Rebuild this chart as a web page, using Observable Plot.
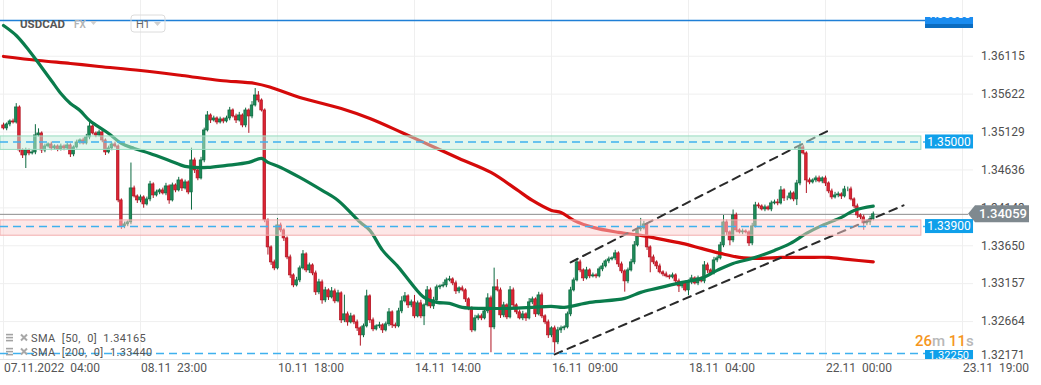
<!DOCTYPE html>
<html><head><meta charset="utf-8">
<script src="https://cdn.jsdelivr.net/npm/d3@7"></script>
<script src="https://cdn.jsdelivr.net/npm/@observablehq/plot@0.6"></script>
<style>
html,body{margin:0;padding:0;background:#fff;}
#chart{width:1041px;height:385px;overflow:hidden;}
svg text{font-family:Roboto, sans-serif;}
</style></head><body><div id="chart"></div>
<script>
// ---------- DATA ----------
const symbol = "USDCAD", market = "FX", timeframe = "H1";
const firstOpen = 1.35215;
const closes = [
1.35176,1.35228,1.35267,1.35254,1.35449,1.34890,1.34825,1.34890,1.34851,1.34864,
1.35085,1.35111,1.34890,1.34942,1.34968,1.34916,1.34942,1.34903,1.34942,1.34916,
1.34955,1.34838,1.34929,1.34994,1.35020,1.34981,1.35059,1.35202,1.35111,1.35085,
1.35124,1.35020,1.34864,1.34916,1.34968,1.34942,1.34240,1.33902,1.33928,1.33954,
1.34396,1.34292,1.34240,1.34279,1.34188,1.34253,1.34448,1.34305,1.34344,1.34370,
1.34331,1.34422,1.34240,1.34435,1.34370,1.34500,1.34396,1.34474,1.34344,1.34760,
1.34630,1.34526,1.34760,1.35150,1.35345,1.35280,1.35306,1.35254,1.35293,1.35267,
1.35306,1.35410,1.35332,1.35280,1.35345,1.35215,1.35410,1.35332,1.35475,1.35605,
1.35540,1.35410,1.33980,1.33629,1.33434,1.33356,1.33915,1.33850,1.33746,1.33499,
1.33265,1.33135,1.33200,1.33356,1.33538,1.33330,1.33395,1.33291,1.33044,1.33174,
1.32940,1.33070,1.32979,1.33057,1.32927,1.33031,1.32680,1.32758,1.32654,1.32732,
1.32654,1.32576,1.32485,1.32602,1.32992,1.32680,1.32563,1.32602,1.32615,1.32550,
1.32628,1.32784,1.32615,1.32602,1.32797,1.32927,1.32992,1.32875,1.32914,1.32732,
1.32901,1.32732,1.32875,1.33070,1.32862,1.32940,1.33109,1.33122,1.33135,1.33200,
1.33213,1.33161,1.33057,1.33096,1.33070,1.32953,1.32836,1.32550,1.32706,1.32732,
1.32706,1.32797,1.32966,1.32589,1.33109,1.33070,1.32745,1.32875,1.32719,1.33070,
1.32875,1.32784,1.32706,1.32758,1.32706,1.32914,1.32953,1.32758,1.33005,1.32732,
1.32654,1.32485,1.32576,1.32394,1.32550,1.32576,1.32589,1.32758,1.33070,1.33200,
1.33434,1.33330,1.33226,1.33330,1.33252,1.33265,1.33252,1.33343,1.33382,1.33447,
1.33473,1.33486,1.33551,1.33408,1.33317,1.33187,1.33330,1.33434,1.33655,1.33863,
1.33876,1.33928,1.33629,1.33499,1.33434,1.33382,1.33304,1.33278,1.33252,1.33239,
1.33265,1.33187,1.33122,1.33161,1.33070,1.33174,1.33226,1.33161,1.33226,1.33187,
1.33395,1.33330,1.33291,1.33460,1.33486,1.33655,1.33954,1.33824,1.33720,1.34045,
1.33850,1.33824,1.33837,1.33824,1.33681,1.33902,1.34175,1.34162,1.34123,1.34149,
1.34123,1.34201,1.34214,1.34201,1.34370,1.34266,1.34266,1.34331,1.34253,1.34461,
1.34929,1.34851,1.34500,1.34474,1.34500,1.34526,1.34487,1.34526,1.34461,1.34357,
1.34279,1.34305,1.34318,1.34292,1.34383,1.34383,1.34253,1.34162,1.34045,1.34019,
1.33941,1.33954,1.33993,1.34059];
// wick lengths above / below the body, in pips
const upperWickPips = [
3,2,2,3,5,2,2,3,2,3, 14,6,2,3,2,3,2,2,3,2, 3,2,2,3,2,3,4,5,2,2, 3,2,2,3,2,3,2,2,3,2,
33,3,2,3,2,3,4,2,3,2, 3,4,2,3,2,4,2,3,2,16, 3,2,4,3,5,2,3,2,3,2, 3,4,2,3,4,2,3,2,5,9,
5,2,2,2,2,3,9,3,2,2, 3,2,4,3,5,2,3,2,3,4, 3,4,2,5,3,4,2,25,3,4, 2,3,2,3,8,2,3,2,4,2,
3,5,2,3,4,6,5,2,3,9, 3,4,2,5,3,4,3,2,4,3, 4,2,3,2,3,2,2,2,4,3, 3,4,6,3,25,10,3,4,2,5,
3,2,3,4,2,5,3,2,4,3, 2,3,2,3,4,3,2,3,4,3, 5,3,2,4,2,3,2,3,4,2, 3,2,4,2,3,2,3,4,5,4,
13,4,2,2,3,2,3,2,3,2, 3,2,3,2,3,3,4,2,3,2, 5,3,2,4,3,4,9,3,2,7, 3,2,3,2,2,4,4,3,2,3,
2,3,3,4,5,2,3,3,2,4, 5,3,2,3,2,3,3,2,3,2, 3,4,3,2,4,3,3,2,3,2, 3,3,4,3];
const lowerWickPips = [
2,3,3,2,2,3,4,17,3,2, 3,2,4,3,2,3,2,3,2,3, 2,4,3,2,3,2,2,3,2,3, 2,3,4,2,3,2,3,4,3,3,
3,2,4,3,5,2,3,4,2,3, 2,3,5,2,3,2,4,2,3,23, 4,3,2,3,2,4,2,3,2,3, 2,3,2,4,2,3,3,22,3,2,
3,2,3,10,4,3,2,3,4,3, 4,3,2,3,2,3,4,3,4,3, 5,3,4,2,3,2,4,3,5,2, 3,4,14,3,2,4,3,2,3,4,
2,3,4,3,2,3,2,4,3,3, 2,3,12,2,3,4,2,3,2,3, 2,3,4,3,2,4,3,3,2,3, 3,2,3,33,3,2,4,3,3,2,
4,3,2,3,4,2,3,4,2,3, 3,4,3,14,3,4,3,2,3,2, 2,3,4,2,3,2,3,2,3,2, 3,2,3,4,3,14,3,2,3,2,
3,2,4,20,3,4,2,3,2,3, 2,3,8,3,2,7,3,2,3,2, 3,4,3,2,3,2,3,4,7,3, 3,2,3,2,4,3,2,3,2,3,
2,3,2,3,2,4,3,2,3,8, 3,2,17,3,2,3,2,3,4,3, 3,2,3,4,2,3,2,3,4,3, 9,3,4,2];

const sma50Bar = [0,4,8,12,15,18,21,24,27,33,37,41,46,52,57,60,64,70,77,81,83,87,93,100,105,112,115,119,124,128,132,136,140,144,151,159,166,172,176,184,195,200,205,213,219,224,229,235,242,247,252,257,263,267,273];
const sma50 = [1.36515,1.36385,1.36190,1.35969,1.35800,1.35631,1.35501,1.35410,1.35280,1.35111,
1.34981,1.34916,1.34851,1.34760,1.34682,1.34669,1.34669,1.34695,1.34734,1.34786,
1.34734,1.34669,1.34539,1.34370,1.34240,1.33954,1.33850,1.33590,1.33369,1.33161,
1.32979,1.32914,1.32901,1.32849,1.32836,1.32836,1.32849,1.32862,1.32849,1.32914,
1.32966,1.33044,1.33096,1.33174,1.33226,1.33330,1.33421,1.33486,1.33590,1.33681,
1.33811,1.33915,1.34019,1.34110,1.34165];
const sma200Bar = [0,11,21,30,43,56,68,79,84,93,106,115,125,134,143,153,161,166,172,175,179,185,193,200,205,213,219,225,231,238,244,252,259,265,273];
const sma200 = [1.36112,1.36060,1.36021,1.35982,1.35930,1.35865,1.35800,1.35761,1.35709,1.35579,
1.35436,1.35306,1.35124,1.34955,1.34786,1.34604,1.34383,1.34240,1.34110,1.34084,
1.33980,1.33889,1.33824,1.33785,1.33746,1.33681,1.33616,1.33551,1.33499,1.33486,
1.33499,1.33499,1.33499,1.33473,1.33440];
const smaLegend = ["SMA\u00a0 [50,\u00a0 0]\u00a0 1.34165", "SMA\u00a0 [200,\u00a0 0]\u00a0 1.33440"];

const channelUpperBar = [178, 259], channelUpperPrice = [1.33434, 1.35150];
const channelLowerBar = [173, 282.5], channelLowerPrice = [1.32238, 1.34175];

const zoneLow = [1.34897, 1.33781], zoneHigh = [1.35072, 1.33980];
const levelPrices = [1.35000, 1.33900, 1.32250];
const topLevel = 1.36580;
const lastPrice = 1.34059;

const xTickBar = [0, 43, 86, 129, 172, 215, 258, 301];
const xTickLabels = ["07.11.2022\u00a0 04:00","08.11\u00a0 23:00","10.11\u00a0 18:00","14.11\u00a0 14:00",
  "16.11\u00a0 09:00","18.11\u00a0 04:00","22.11\u00a0 00:00","23.11\u00a0 19:00"];
const yTicks = [1.36115,1.35622,1.35129,1.34636,1.34143,1.33650,1.33157,1.32664,1.32171];
const countdown = [["26","o"],["m","g"],[" 11","o"],["s","g"]];

// ---------- BUILD ----------
const candles = closes.map((c, i) => {
  const o = i ? closes[i-1] : firstOpen;
  return {i, o, c, h: Math.max(o,c) + upperWickPips[i]*1e-4, l: Math.min(o,c) - lowerWickPips[i]*1e-4, up: c >= o};
});
const sma50Pts = sma50Bar.map((b,k) => ({b, v: sma50[k]}));
const sma200Pts = sma200Bar.map((b,k) => ({b, v: sma200[k]}));
const channelPts = [
  ...channelUpperBar.map((b,k)=>({k:"u", b, v: channelUpperPrice[k]})),
  ...channelLowerBar.map((b,k)=>({k:"l", b, v: channelLowerPrice[k]}))
];
const zones = zoneLow.map((lo,k)=>({k, lo, hi: zoneHigh[k]}));

const xDom = [-0.9416, 304.46];
const yDom = [1.32171, 1.36840];
const labelBar = 289.4, zoneEndBar = 288.1, tagBar = 302.9;
const GREEN = "#1d8a58", GREEN_D = "#0c6a40", RED = "#dc2433", RED_D = "#b01422";

const plot = Plot.plot({
  width: 1041, height: 385,
  marginTop: 0, marginRight: 68, marginBottom: 26, marginLeft: 0,
  x: {domain: xDom, axis: null},
  y: {domain: yDom, axis: null},
  style: {background: "#fff", fontFamily: "Roboto, sans-serif"},
  marks: [
    Plot.ruleY(yTicks, {stroke: "#efefef"}),
    Plot.ruleX(xTickBar, {stroke: "#efefef"}),
    Plot.ruleY([yDom[0]], {stroke: "#e2e2e2"}),
    Plot.ruleY([topLevel], {x1: () => xDom[0], x2: () => labelBar, stroke: "#1f7fd6", strokeWidth: 1.3}),
    Plot.ruleY([lastPrice], {x1: () => xDom[0], x2: () => tagBar, stroke: "#8c8c8c", strokeWidth: 1}),
    Plot.ruleX(candles, {x: "i", y1: "l", y2: "h", stroke: d => d.up ? GREEN_D : RED_D, strokeWidth: 1}),
    Plot.rect(candles, {x1: d => d.i - 0.4, x2: d => d.i + 0.4, y1: "o", y2: "c",
      fill: d => d.up ? GREEN : RED, stroke: d => d.up ? GREEN_D : RED_D, strokeWidth: 0.7}),
    Plot.line(sma200Pts, {x: "b", y: "v", stroke: "#d50a0a", strokeWidth: 3.2, curve: "catmull-rom"}),
    Plot.line(sma50Pts, {x: "b", y: "v", stroke: "#0a7c4c", strokeWidth: 3.2, curve: "catmull-rom"}),
    Plot.line(channelPts, {x: "b", y: "v", z: "k", stroke: "#2a2a2a", strokeWidth: 2, strokeDasharray: "8,6"}),
    Plot.rect(zones, {x1: () => xDom[0], x2: () => zoneEndBar, y1: "lo", y2: "hi",
      fill: d => d.k ? "#fbcfcf" : "#c6eedc", fillOpacity: 0.5,
      stroke: d => d.k ? "#f2adad" : "#98dcc0", strokeWidth: 1}),
    Plot.ruleY(levelPrices, {x1: () => xDom[0], x2: () => labelBar, stroke: "#3fb1ee", strokeWidth: 1.5, strokeDasharray: "8,5"})
  ]
});
document.getElementById("chart").appendChild(plot);

// ---------- ANNOTATIONS (positioned with Plot's scales) ----------
const svg = d3.select(plot);
const X = v => plot.scale("x").apply(v), Y = v => plot.scale("y").apply(v);
const g = svg.append("g").attr("text-anchor", "start");

// x tick labels
g.selectAll(".xl").data(xTickBar).join("text")
  .attr("x", d => X(d) + 1).attr("y", 372).attr("fill", "#555").attr("font-size", 12)
  .text((d,k) => xTickLabels[k]);
// y tick labels
g.selectAll(".yl").data(yTicks).join("text")
  .attr("x", 981).attr("y", d => Math.min(Y(d), 355) + 4.3).attr("fill", "#4f4f4f").attr("font-size", 12)
  .text(d => d.toFixed(5));

// level labels
const lx = X(labelBar);
levelPrices.forEach((p, k) => {
  const y = Y(p);
  if (k < 2) {
    g.append("rect").attr("x", lx).attr("y", y - 7).attr("width", 48).attr("height", 14).attr("fill", "#10a0ea");
    g.append("text").attr("x", lx + 24).attr("y", y + 4.3).attr("text-anchor", "middle")
      .attr("fill", "#fff").attr("font-size", 12).text(p.toFixed(5));
  } else {
    g.append("rect").attr("x", lx).attr("y", 350).attr("width", 48).attr("height", 9).attr("fill", "#10a0ea");
    g.append("text").attr("x", lx + 24).attr("y", 358.5).attr("text-anchor", "middle")
      .attr("fill", "#fff").attr("font-size", 11).text(p.toFixed(5));
  }
});
// top level label (partly hidden)
{
  const y = Y(topLevel);
  svg.append("defs").append("clipPath").attr("id", "topclip")
    .append("rect").attr("x", lx).attr("y", y - 3).attr("width", 48).attr("height", 11);
  g.append("rect").attr("x", lx).attr("y", y - 3).attr("width", 48).attr("height", 7).attr("fill", "#1a8cf0");
  g.append("rect").attr("x", lx).attr("y", y + 4).attr("width", 48).attr("height", 4).attr("fill", "#0b6cc0");
  g.append("text").attr("clip-path", "url(#topclip)").attr("x", lx + 24).attr("y", y - 1.5)
    .attr("text-anchor", "middle").attr("fill", "#fff").attr("font-size", 12).text(topLevel.toFixed(5));
}
// current price tag
{
  const y = Y(lastPrice), x0 = X(tagBar);
  g.append("path").attr("d", `M${x0},${y} L${x0+7},${y-8.5} L1029,${y-8.5} L1029,${y+8.5} L${x0+7},${y+8.5} Z`).attr("fill", "#7f898f");
  g.append("text").attr("x", 1003).attr("y", y + 4.6).attr("text-anchor", "middle").attr("fill", "#fff")
    .attr("font-size", 13).attr("font-weight", 500).text(lastPrice.toFixed(5));
}
// countdown
{
  const t = g.append("text").attr("x", 915).attr("y", 346).attr("font-size", 15).attr("font-weight", 500).attr("xml:space", "preserve");
  countdown.forEach(([s, c]) => t.append("tspan").attr("fill", c === "o" ? "#f5961e" : "#b8b8b8").text(s));
}
// header
{
  g.append("text").attr("x", 20).attr("y", 28).attr("font-size", 11.5).attr("font-weight", 700).attr("fill", "#555").text(symbol);
  g.append("text").attr("x", 74).attr("y", 28).attr("font-size", 10).attr("font-weight", 600).attr("fill", "#b3b3b3").text(market);
  g.append("path").attr("d", "M90,21 L97,21 L93.5,25 Z").attr("fill", "#cfcfcf");
  g.append("rect").attr("x", 131).attr("y", 15).attr("width", 34).attr("height", 17).attr("rx", 3)
    .attr("fill", "none").attr("stroke", "#dcdcdc");
  g.append("text").attr("x", 136).attr("y", 28).attr("font-size", 11).attr("fill", "#666").text(timeframe);
  g.append("path").attr("d", "M154,22 L161,22 L157.5,26 Z").attr("fill", "#cfcfcf");
}
// SMA legend
smaLegend.forEach((s, k) => {
  const y = 338 + k * 14;
  [-3.5, -0.5, 2.5].forEach(dy => g.append("rect").attr("x", 6).attr("y", y + dy - 0.7).attr("width", 7).attr("height", 1.6).attr("fill", "#a3a3a3"));
  g.append("path").attr("d", `M21,${y-3.5} L27,${y+2.5} M27,${y-3.5} L21,${y+2.5}`).attr("stroke", "#a8a8a8").attr("stroke-width", 2);
  g.append("text").attr("x", 31).attr("y", y + 4).attr("font-size", 11).attr("letter-spacing", 0.4).attr("fill", "#555").text(s);
});
</script></body></html>
